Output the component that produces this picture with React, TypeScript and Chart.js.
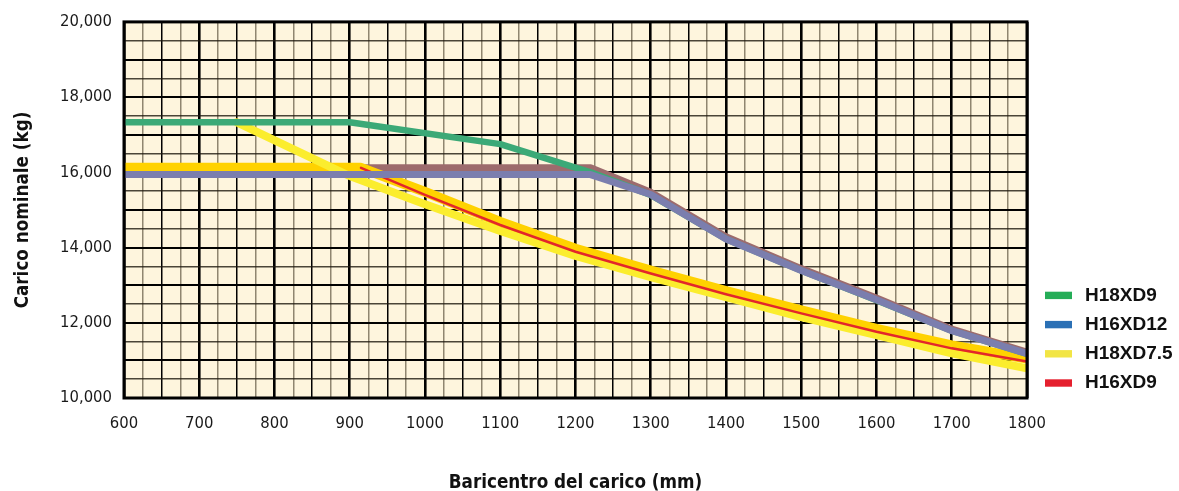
import React, { useEffect, useRef } from "react";
import { Chart, registerables } from "chart.js";

Chart.register(...registerables);

// ---- Data ----
const xMin = 600;
const xMax = 1800;
const yMin = 10000;
const yMax = 20000;

// H18XD9 (green)
const h18xd9X = [600, 900, 1100, 1220, 1300, 1400, 1500, 1600, 1700, 1800];
const h18xd9Y = [17330, 17330, 16750, 16000, 15400, 14230, 13390, 12600, 11790, 11170];

// H16XD12 (drawn periwinkle)
const h16xd12X = [600, 1220, 1300, 1400, 1500, 1600, 1700, 1800];
const h16xd12Y = [15940, 15940, 15410, 14230, 13390, 12610, 11790, 11180];

// upper mauve band
const mauveX = [915, 1220, 1300, 1400, 1500, 1600, 1700, 1800];
const mauveY = [16120, 16120, 15470, 14290, 13440, 12660, 11830, 11220];

// H18XD7.5 (yellow)
const h18xd75X = [750, 900, 1000, 1100, 1200, 1300, 1400, 1500, 1600, 1700, 1800];
const h18xd75Y = [17330, 15900, 15150, 14440, 13780, 13210, 12680, 12150, 11670, 11190, 10790];

// gold band
const goldX = [600, 915, 1000, 1100, 1200, 1300, 1400, 1500, 1600, 1700, 1800];
const goldY = [16120, 16120, 15480, 14680, 13970, 13390, 12840, 12330, 11840, 11400, 11050];

// H16XD9 (red)
const h16xd9X = [915, 1000, 1100, 1200, 1300, 1400, 1500, 1600, 1700, 1800];
const h16xd9Y = [16120, 15400, 14600, 13890, 13310, 12760, 12250, 11760, 11320, 10970];

// Legend
const legendLabels = ["H18XD9", "H16XD12", "H18XD7.5", "H16XD9"];
const legendColors = ["#25ad57", "#2b70b5", "#f2e545", "#e5202e"];

const pts = (xs: number[], ys: number[]) => xs.map((x, i) => ({ x, y: ys[i] }));
const fmt = (v: number) => String(v).replace(/\B(?=(\d{3})+(?!\d))/g, ",");

const NARROW = "'DejaVu Sans Condensed', 'Liberation Sans', sans-serif";
const SANS = "'Liberation Sans', Arial, sans-serif";

const framePlugin = {
  id: "frameAndBg",
  beforeDraw(chart: any) {
    const { ctx, chartArea: a } = chart;
    ctx.save();
    ctx.fillStyle = "#fef5dd";
    ctx.fillRect(a.left, a.top, a.right - a.left, a.bottom - a.top);
    ctx.restore();
  },
  afterDatasetsDraw(chart: any) {
    const { ctx, chartArea: a } = chart;
    ctx.save();
    ctx.strokeStyle = "#000";
    ctx.lineWidth = 3;
    ctx.strokeRect(a.left, a.top, a.right - a.left, a.bottom - a.top);
    ctx.restore();
  },
  afterDraw(chart: any) {
    const { ctx, chartArea: a } = chart;
    ctx.save();
    const n = legendLabels.length;
    for (let i = 0; i < n; i++) {
      const cy = a.bottom - 15 - (n - 1 - i) * 29.2;
      ctx.fillStyle = legendColors[i];
      ctx.fillRect(a.right + 18, cy - 3.7, 27, 7.4);
      ctx.fillStyle = "#111";
      ctx.font = `bold 19px ${SANS}`;
      ctx.textBaseline = "middle";
      ctx.textAlign = "left";
      ctx.fillText(legendLabels[i], a.right + 58, cy);
    }
    ctx.restore();
  },
};

export default function App() {
  const ref = useRef<HTMLCanvasElement | null>(null);

  useEffect(() => {
    if (!ref.current) return;
    const common = {
      pointRadius: 0,
      pointHoverRadius: 0,
      tension: 0,
      fill: false,
      borderCapStyle: "round",
      borderJoinStyle: "round",
    };
    const chart = new Chart(ref.current, {
      type: "line",
      data: {
        datasets: [
          { ...common, label: "H16XD12", data: pts(h16xd12X, h16xd12Y), borderColor: "#7b7eae", borderWidth: 7, order: 0 },
          { ...common, label: "H16XD9", data: pts(h16xd9X, h16xd9Y), borderColor: "#e3262b", borderWidth: 2.5, order: 1 },
          { ...common, label: "H18XD9", data: pts(h18xd9X, h18xd9Y), borderColor: "#3ca977", borderWidth: 6.5, order: 2 },
          { ...common, label: "H18XD7.5", data: pts(h18xd75X, h18xd75Y), borderColor: "#fbed2e", borderWidth: 8, order: 3 },
          { ...common, label: "gold", data: pts(goldX, goldY), borderColor: "#ffd200", borderWidth: 10, order: 4 },
          { ...common, label: "mauve", data: pts(mauveX, mauveY), borderColor: "#9d6b6d", borderWidth: 7, order: 5 },
        ] as any,
      },
      options: {
        animation: false,
        responsive: true,
        maintainAspectRatio: false,
        layout: { padding: { left: 0, right: 152, top: 19, bottom: 0 } },
        plugins: {
          legend: { display: false },
          tooltip: { enabled: false },
        },
        scales: {
          x: {
            type: "linear",
            min: xMin,
            max: xMax,
            border: { display: false },
            afterFit: (s: any) => {
              s.height = 93;
            },
            ticks: {
              stepSize: 25,
              autoSkip: false,
              maxRotation: 0,
              padding: 16,
              color: "#1a1a1a",
              font: { family: NARROW, size: 16.5 },
              callback: (v: any) => (Number(v) % 100 === 0 ? String(v) : ""),
            },
            grid: {
              drawTicks: false,
              color: (c: any) => {
                const v = c.tick?.value ?? 0;
                if (v % 50 === 0) return "#000";
                return "rgba(70,60,40,0.6)";
              },
              lineWidth: (c: any) => {
                const v = c.tick?.value ?? 0;
                if (v % 100 === 0) return 2.6;
                return 1.5;
              },
            },
            title: {
              display: true,
              text: "Baricentro del carico (mm)",
              color: "#111",
              font: { family: NARROW, size: 18.7, weight: "bold", lineHeight: 0.8 },
              padding: { top: 0, bottom: 0 },
            },
          },
          y: {
            type: "linear",
            min: yMin,
            max: yMax,
            border: { display: false },
            afterFit: (s: any) => {
              s.width = 124;
            },
            ticks: {
              stepSize: 500,
              autoSkip: false,
              padding: 12,
              color: "#1a1a1a",
              font: { family: NARROW, size: 16.5 },
              callback: (v: any) => (Number(v) % 2000 === 0 ? fmt(Number(v)) : ""),
            },
            grid: {
              drawTicks: false,
              color: (c: any) => {
                const v = c.tick?.value ?? 0;
                return v % 1000 === 0 ? "#000" : "rgba(30,25,15,0.8)";
              },
              lineWidth: (c: any) => {
                const v = c.tick?.value ?? 0;
                return v % 1000 === 0 ? 2 : 1.5;
              },
            },
            title: {
              display: true,
              text: "Carico nominale (kg)",
              color: "#111",
              font: { family: NARROW, size: 18.7, weight: "bold", lineHeight: 0.8 },
              padding: { top: 16, bottom: 0 },
            },
          },
        },
      } as any,
      plugins: [framePlugin],
    });
    return () => chart.destroy();
  }, []);

  return (
    <div style={{ position: "absolute", left: 0, top: 0, width: 1179, height: 491, background: "#fff" }}>
      <canvas ref={ref} />
    </div>
  );
}
